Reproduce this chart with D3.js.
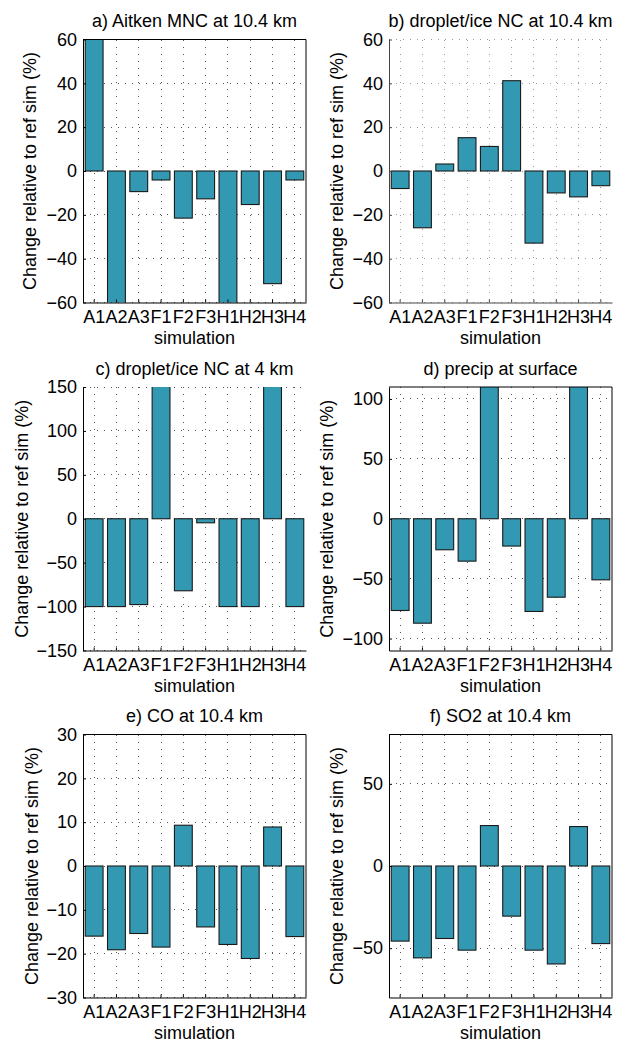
<!DOCTYPE html>
<html><head><meta charset="utf-8">
<script src="https://cdn.jsdelivr.net/npm/d3@7"></script>
<style>
html,body{margin:0;padding:0;background:#fff;}
svg text{font-family:"Liberation Sans",Arial,Helvetica,sans-serif;fill:#000;}
</style></head>
<body>
<svg id="fig" width="620" height="1041"></svg>
<script>
// ---------- data ----------
const categories = ["A1","A2","A3","F1","F2","F3","H1","H2","H3","H4"];
const titles = ["a) Aitken MNC at 10.4 km","b) droplet/ice NC at 10.4 km","c) droplet/ice NC at 4 km",
                "d) precip at surface","e) CO at 10.4 km","f) SO2 at 10.4 km"];
const aitkenMNC   = [98, -97, -9.4, -4.1, -21.5, -12.7, -99, -15.3, -51.4, -4.1];
const dropIce104  = [-8.0, -25.9, 3.2, 15.2, 11.2, 41.2, -32.9, -10.0, -11.8, -6.7];
const dropIce4    = [-100, -100, -97.7, 400, -82, -4.6, -100, -100, 400, -100];
const precipSurf  = [-76.6, -87.2, -25.9, -35.4, 300, -22.8, -77.4, -65.5, 300, -51.0];
const co104       = [-16.0, -19.1, -15.4, -18.5, 9.3, -13.9, -17.9, -21.1, 8.9, -16.1];
const so2104      = [-45.7, -55.9, -44.1, -51.2, 24.6, -30.5, -51.2, -59.6, 24.0, -47.2];
const yLimits = [[-60,60],[-60,60],[-150,150],[-110,110],[-30,30],[-80,80]];
const yTicks  = [[-60,-40,-20,0,20,40,60],[-60,-40,-20,0,20,40,60],[-150,-100,-50,0,50,100,150],
                 [-100,-50,0,50,100],[-30,-20,-10,0,10,20,30],[-50,0,50]];
const seriesList = [aitkenMNC, dropIce104, dropIce4, precipSurf, co104, so2104];
const yLabel = "Change relative to ref sim (%)";
const xLabel = "simulation";

// ---------- layout ----------
const cols = [{l:83,r:306},{l:389,r:612}];
const rows = [{t:39.5,b:302.5},{t:387,b:650.5},{t:734.5,b:997.5}];
const boxed = [true,false,false,true,true,true];
const ylabOffset = [47,46,55,56,45,46];
const barColor = "#3399b3";
const fs = 18;

const svg = d3.select("#fig");
const fmt = v => (v<0 ? "\u2212"+Math.abs(v) : String(v));

seriesList.forEach((vals, i) => {
  const c = cols[i%2], r = rows[Math.floor(i/2)];
  const x = d3.scaleBand().domain(categories).range([c.l, c.r]).paddingInner(0.2).paddingOuter(0.1);
  const y = d3.scaleLinear().domain(yLimits[i]).range([r.b, r.t]);
  const g = svg.append("g");
  const clipId = "clip"+i;
  svg.append("clipPath").attr("id", clipId).append("rect")
    .attr("x", c.l).attr("y", r.t).attr("width", c.r-c.l).attr("height", r.b-r.t);

  // grid
  const gridCol = i===1 ? "#999" : "#555";
  g.append("g").selectAll("line.hg").data(yTicks[i]).join("line")
    .attr("x1", c.l).attr("x2", c.r).attr("y1", d=>y(d)).attr("y2", d=>y(d))
    .attr("stroke", gridCol).attr("stroke-width",1).attr("stroke-dasharray","1,6")
    .attr("shape-rendering","crispEdges");
  g.append("g").selectAll("line.vg").data(categories).join("line")
    .attr("x1", d=>x(d)+x.bandwidth()/2).attr("x2", d=>x(d)+x.bandwidth()/2)
    .attr("y1", r.t).attr("y2", r.b)
    .attr("stroke", gridCol).attr("stroke-width",1).attr("stroke-dasharray","1,6")
    .attr("shape-rendering","crispEdges");

  // bars
  g.append("g").attr("clip-path", `url(#${clipId})`).selectAll("rect")
    .data(vals.map((v,k)=>({c:categories[k], v}))).join("rect")
    .attr("x", d=>x(d.c)).attr("width", x.bandwidth())
    .attr("y", d=>y(Math.max(0,d.v))).attr("height", d=>Math.abs(y(d.v)-y(0)))
    .attr("fill", barColor).attr("stroke", "#1a1a1a").attr("stroke-width", 1.1);

  // axes
  const axCol = i===1 ? "#444" : "#000";
  const ya = g.append("g").attr("transform", `translate(${c.l},0)`)
    .call(d3.axisLeft(y).tickValues(yTicks[i]).tickFormat(fmt).tickSizeInner(-3).tickSizeOuter(0).tickPadding(6));
  ya.select(".domain").attr("stroke", axCol);
  ya.selectAll(".tick line").attr("stroke", axCol);
  ya.selectAll("text").attr("font-size", fs).attr("font-family", null);
  const xa = g.append("g").attr("transform", `translate(0,${r.b})`)
    .call(d3.axisBottom(x).tickSizeInner(-3).tickSizeOuter(0).tickPadding(8));
  xa.select(".domain").attr("stroke", axCol);
  xa.selectAll(".tick line").attr("stroke", axCol);
  xa.selectAll("text").attr("font-size", fs).attr("font-family", null);
  if (boxed[i]) {
    g.append("path").attr("d", `M${c.l},${r.t}H${c.r}V${r.b}`).attr("fill","none").attr("stroke","#000");
  }

  // labels
  g.append("text").attr("x", (c.l+c.r)/2).attr("y", r.t-12.5).attr("text-anchor","middle")
    .attr("font-size", fs).text(titles[i]);
  g.append("text").attr("x", (c.l+c.r)/2).attr("y", r.b+41).attr("text-anchor","middle")
    .attr("font-size", fs).text(xLabel);
  g.append("text").attr("transform", `translate(${c.l-ylabOffset[i]},${(r.t+r.b)/2}) rotate(-90)`)
    .attr("text-anchor","middle").attr("font-size", fs).text(yLabel);
});
</script>
</body></html>
